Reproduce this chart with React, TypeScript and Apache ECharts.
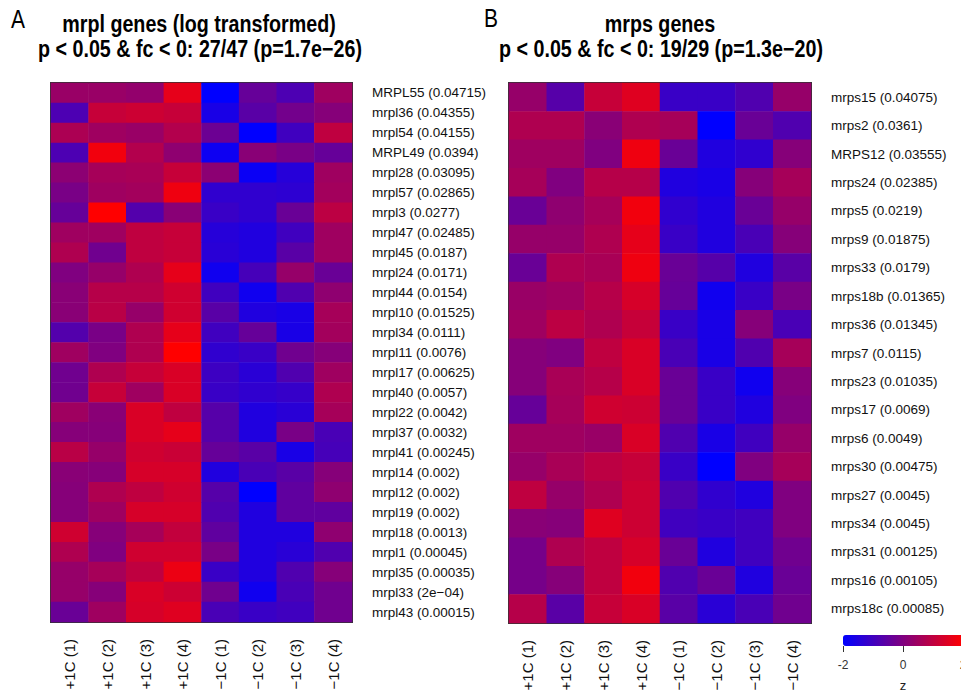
import React, { useEffect, useRef } from "react";
import * as echarts from "echarts";

const samples = ["+1C (1)", "+1C (2)", "+1C (3)", "+1C (4)", "\u22121C (1)", "\u22121C (2)", "\u22121C (3)", "\u22121C (4)"];

const genesA = ["MRPL55", "mrpl36", "mrpl54", "MRPL49", "mrpl28", "mrpl57", "mrpl3", "mrpl47", "mrpl45", "mrpl24", "mrpl44", "mrpl10", "mrpl34", "mrpl11", "mrpl17", "mrpl40", "mrpl22", "mrpl37", "mrpl41", "mrpl14", "mrpl12", "mrpl19", "mrpl18", "mrpl1", "mrpl35", "mrpl33", "mrpl43"];
const pValuesA = ["0.04715", "0.04355", "0.04155", "0.0394", "0.03095", "0.02865", "0.0277", "0.02485", "0.0187", "0.0171", "0.0154", "0.01525", "0.0111", "0.0076", "0.00625", "0.0057", "0.0042", "0.0032", "0.00245", "0.002", "0.002", "0.002", "0.0013", "0.00045", "0.00035", "2e\u221204", "0.00015"];

const genesB = ["mrps15", "mrps2", "MRPS12", "mrps24", "mrps5", "mrps9", "mrps33", "mrps18b", "mrps36", "mrps7", "mrps23", "mrps17", "mrps6", "mrps30", "mrps27", "mrps34", "mrps31", "mrps16", "mrps18c"];
const pValuesB = ["0.04075", "0.0361", "0.03555", "0.02385", "0.0219", "0.01875", "0.0179", "0.01365", "0.01345", "0.0115", "0.01035", "0.0069", "0.0049", "0.00475", "0.0045", "0.0045", "0.00125", "0.00105", "0.00085"];

// z-scores, one row per gene, one column per sample
const zA: number[][] = [
  [0.4, 0.4, 0.3, 1.6, -2, -0.4, -0.8, 0.5],
  [-0.8, 1.1, 1.2, 1.1, -1.6, -0.6, -0.2, 0.1],
  [0.7, 0.5, 0.4, 0.8, -0.3, -2, -1.0, 1.0],
  [-0.8, 1.8, 0.8, 0.25, -1.8, 0.15, -0.1, -0.4],
  [0.2, 0.6, 0.65, 1.1, 0.2, -1.85, -1.4, 0.5],
  [-0.1, 0.5, 0.55, 1.75, -1.25, -1.25, -1.3, 0.55],
  [-0.4, 2.0, -0.7, 0.15, -1.1, -1.25, -0.35, 0.95],
  [0.5, 0.5, 1.0, 1.1, -1.4, -1.5, -1.0, 0.5],
  [0.75, -0.25, 1.0, 1.1, -1.35, -1.5, -0.6, 0.5],
  [0.0, 0.35, 0.75, 1.6, -1.75, -0.9, 0.35, -0.35],
  [0.15, 0.85, 0.85, 1.25, -1.0, -1.75, -0.75, 0.25],
  [0.15, 0.9, 0.35, 1.25, -0.6, -1.5, -1.6, 0.6],
  [-0.7, -0.1, 0.75, 1.6, -1.0, -0.4, -1.6, 0.55],
  [0.5, 0.0, 0.75, 2.0, -1.25, -1.1, -0.25, 0.1],
  [-0.25, 0.75, 1.1, 1.4, -1.05, -1.35, -0.75, 0.5],
  [-0.25, 1.1, 0.5, 1.4, -1.1, -1.25, -1.15, 0.75],
  [0.5, 0.15, 1.4, 1.0, -0.65, -1.5, -1.35, 0.6],
  [0.1, 0.1, 1.4, 1.6, -0.65, -1.5, -0.1, -0.85],
  [0.9, 0.35, 1.25, 1.15, -0.4, -0.6, -1.6, -0.9],
  [0.15, 0.1, 1.35, 1.35, -1.5, -0.85, -0.6, 0.1],
  [0.1, 0.75, 1.0, 1.25, -0.65, -2.0, -0.5, 0.25],
  [0.1, 0.5, 1.35, 1.35, -0.75, -1.5, -0.5, -0.5],
  [1.25, 0.1, 0.6, 1.05, -0.5, -1.5, -1.5, 0.25],
  [0.75, 0.0, 1.25, 1.25, -0.1, -1.5, -1.35, -0.75],
  [0.35, 0.6, 1.0, 1.7, -1.1, -1.5, -0.75, 0.1],
  [0.35, 0.1, 1.4, 1.2, -0.25, -1.75, -0.85, -0.25],
  [-0.35, 0.5, 1.35, 1.5, -0.85, -1.1, -1.0, -0.25],
];

const zB: number[][] = [
  [0.35, -0.65, 1.1, 1.5, -1.1, -1.1, -0.75, 0.35],
  [0.75, 0.75, 0.15, 0.75, 0.6, -2, -0.35, -0.75],
  [0.5, 0.5, 0.0, 1.75, -0.35, -1.5, -1.25, 0.1],
  [0.6, 0.0, 0.85, 0.85, -1.5, -1.6, 0.1, 0.6],
  [-0.35, 0.25, 0.6, 1.8, -1.25, -1.5, -0.35, 0.35],
  [0.35, 0.35, 0.75, 1.6, -1.1, -1.5, -0.85, 0.1],
  [-0.35, 0.75, 0.65, 1.75, -0.35, -0.65, -1.5, -0.6],
  [0.4, 0.5, 0.85, 1.35, -0.4, -1.75, -1.1, -0.1],
  [0.5, 0.95, 0.75, 1.1, -1.1, -1.6, 0.1, -0.85],
  [0.1, 0.0, 1.0, 1.4, -0.85, -1.6, -0.75, 0.6],
  [0.1, 0.65, 0.85, 1.4, -0.35, -1.1, -1.75, 0.1],
  [-0.4, 0.6, 1.25, 1.2, -0.35, -1.1, -1.5, 0.0],
  [0.5, 0.5, 0.4, 1.4, -0.75, -1.6, -1.0, 0.35],
  [0.35, 0.65, 0.95, 1.1, -1.1, -2.0, 0.0, 0.6],
  [1.0, 0.35, 0.75, 1.2, -0.75, -1.25, -1.5, 0.0],
  [0.15, 0.1, 1.5, 1.2, -1.0, -1.1, -1.0, 0.0],
  [-0.15, 0.75, 1.0, 1.35, -0.35, -1.5, -1.0, -0.25],
  [-0.15, 0.1, 1.0, 1.8, -0.75, -0.35, -1.5, -0.35],
  [0.85, -0.6, 1.1, 1.4, -0.6, -1.35, -0.85, -0.25],
];

const titleA1 = "mrpl genes (log transformed)";
const titleA2 = "p < 0.05 & fc < 0: 27/47 (p=1.7e\u221226)";
const titleB1 = "mrps genes";
const titleB2 = "p < 0.05 & fc < 0: 19/29 (p=1.3e\u221220)";
const zTicks = [-2, 0, 2];

const FONT = "'Liberation Sans', Arial, Helvetica, sans-serif";

function toCells(m: number[][]) {
  const out: [number, number, number][] = [];
  m.forEach((row, r) => row.forEach((v, c) => out.push([c, r, v])));
  return out;
}

function heatAxes(gridIndex: number, genes: string[], pvals: string[]) {
  return {
    x: {
      type: "category",
      gridIndex,
      data: samples,
      axisLine: { show: false },
      axisTick: { show: false },
      splitLine: { show: false },
      axisLabel: { rotate: 90, interval: 0, margin: 17, fontSize: 15, color: "#111", fontFamily: FONT },
    },
    y: {
      type: "category",
      gridIndex,
      inverse: true,
      position: "right",
      data: genes.map((g, i) => `${g} (${pvals[i]})`),
      axisLine: { show: false },
      axisTick: { show: false },
      splitLine: { show: false },
      axisLabel: { interval: 0, margin: 20, fontSize: 13.5, color: "#111", fontFamily: FONT },
    },
  };
}

export default function App() {
  const ref = useRef<HTMLDivElement>(null);
  useEffect(() => {
    if (!ref.current) return;
    const chart = echarts.init(ref.current, null, { renderer: "svg" });
    const a = heatAxes(0, genesA, pValuesA);
    const b = heatAxes(1, genesB, pValuesB);
    const titleText = (text: string, x: number, y: number, size: number, weight: string, sy: number) => ({
      type: "text",
      x,
      y,
      scaleY: sy,
      style: {
        text,
        fontSize: size,
        fontWeight: weight,
        fontFamily: FONT,
        fill: "#000",
        textAlign: "center",
        textVerticalAlign: "middle",
      },
    });
    chart.setOption({
      animation: false,
      backgroundColor: "#fff",
      grid: [
        { left: 51, top: 83, width: 301, height: 539, show: true, borderColor: "#333", borderWidth: 2, backgroundColor: "transparent", outerBoundsMode: "none" },
        { left: 509, top: 83, width: 302, height: 540, show: true, borderColor: "#333", borderWidth: 2, backgroundColor: "transparent", outerBoundsMode: "none" },
        { left: 843, top: 635, width: 120, height: 11, show: false, outerBoundsMode: "none", containLabel: false },
      ],
      xAxis: [
        a.x,
        b.x,
        {
          type: "value",
          gridIndex: 2,
          min: -2,
          max: 2,
          interval: 2,
          axisLine: { show: false },
          splitLine: { show: false },
          axisTick: { show: true, length: 6, lineStyle: { color: "#333", width: 1 } },
          axisLabel: {
            margin: 13,
            fontSize: 12,
            color: "#333",
            fontFamily: FONT,
            hideOverlap: false,
            formatter: (v: number) => (zTicks.includes(v) ? String(v) : ""),
          },
          name: "z",
          nameLocation: "middle",
          nameGap: 33,
          nameTextStyle: { fontSize: 13, color: "#222", fontFamily: FONT },
        },
      ],
      yAxis: [a.y, b.y, { type: "value", gridIndex: 2, show: false, min: 0, max: 1 }],
      visualMap: {
        type: "continuous",
        min: -2,
        max: 2,
        seriesIndex: [0, 1],
        orient: "horizontal",
        left: 843,
        top: 635,
        itemWidth: 11,
        itemHeight: 120,
        padding: 0,
        calculable: false,
        hoverLink: false,
        showLabel: false,
        text: ["", ""],
        inRange: { color: ["#0000FF", "#FF0000"] },
      },
      graphic: [
        titleText("A", 18, 19, 21, "normal", 1.2),
        titleText("B", 491, 18, 21, "normal", 1.2),
        titleText(titleA1, 199, 24, 19.7, "bold", 1.18),
        titleText(titleA2, 200, 49, 19.7, "bold", 1.18),
        titleText(titleB1, 660, 24, 19.7, "bold", 1.18),
        titleText(titleB2, 661, 49, 19.7, "bold", 1.18),
      ],
      series: [
        { type: "heatmap", xAxisIndex: 0, yAxisIndex: 0, data: toCells(zA), itemStyle: { borderWidth: 0 } },
        { type: "heatmap", xAxisIndex: 1, yAxisIndex: 1, data: toCells(zB), itemStyle: { borderWidth: 0 } },
      ],
    });
    return () => chart.dispose();
  }, []);
  return <div ref={ref} style={{ position: "absolute", left: 0, top: 0, width: 961, height: 695 }} />;
}
